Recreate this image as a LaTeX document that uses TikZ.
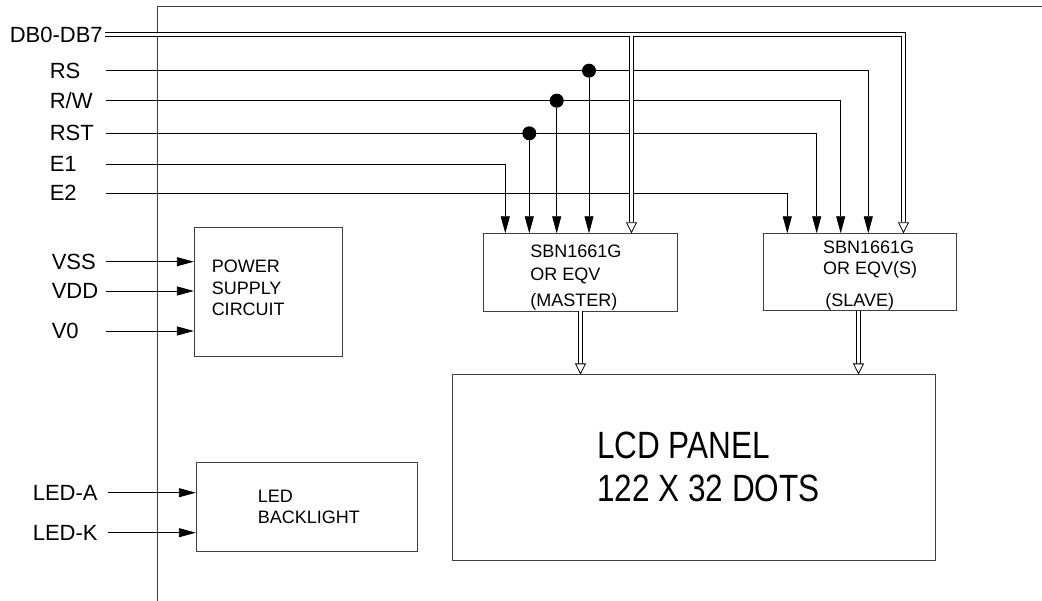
\documentclass[tikz,border=0pt]{standalone}
\usepackage{fontspec}
\setmainfont{Liberation Sans}
\newfontfamily\lcdfont[FakeStretch=0.83]{Liberation Sans}
\usetikzlibrary{arrows.meta, positioning, calc}
\tikzset{
  blk/.style    ={rectangle, draw=black!75, line width=0.9pt, inner sep=0pt},
  blktxt/.style ={anchor=north west, inner sep=0pt, align=left,
                  font=\fontsize{18pt}{21.5pt}\selectfont},
  pin/.style    ={anchor=east, inner sep=0pt, align=left,
                  font=\fontsize{22pt}{26pt}\selectfont},
  dot/.style    ={circle, fill=black, inner sep=0pt, minimum size=14pt},
  sig/.style    ={-{Triangle[length=17pt, width=9pt]}, line width=0.8pt},
  busline/.style={double, double distance=3pt, line width=1pt},
  bus/.style    ={busline, -{Triangle[open, length=11pt, width=11pt, line width=0.8pt]}},
}
\begin{document}
\begin{tikzpicture}[x=1pt, y=-1pt]
  \useasboundingbox (0,0) rectangle (1042,601);
  % frame
  \draw[black!75, line width=0.9pt] (157,601) -- (157,6) -- (1042,6);
  % blocks
  \node[blk, minimum width=148pt, minimum height=129pt] (power) at (268.3,292) {};
  \node[blk, minimum width=221pt, minimum height=89pt] (led) at (306.8,507.2) {};
  \node[blk, minimum width=193.7pt, minimum height=77.7pt] (master) at (580.5,272.2) {};
  \node[blk, minimum width=193.4pt, minimum height=77.4pt] (slave) at (860,272) {};
  \node[blk, minimum width=483.4pt, minimum height=185.7pt] (lcd) at (694,467.8) {};
  \node[blktxt] (powertxt) at ($(power.north west)+(17.7,32.9)$) {POWER\\SUPPLY\\CIRCUIT};
  \node[blktxt, font=\fontsize{18pt}{21pt}\selectfont] (ledtxt) at ($(led.north west)+(61.7,28.1)$) {LED\\BACKLIGHT};
  \node[blktxt, font=\fontsize{18pt}{22.6pt}\selectfont] (mastertxt) at ($(master.north west)+(47,11.9)$) {SBN1661G\\OR EQV\\[4pt](MASTER)};
  \node[blktxt, font=\fontsize{18pt}{21.7pt}\selectfont] (slavetxt) at ($(slave.north west)+(60,7.5)$) {SBN1661G\\OR EQV(S)\\[10pt]\hspace{2.4pt}(SLAVE)};
  \node[blktxt, font=\lcdfont\fontsize{38pt}{43pt}\selectfont] (lcdtxt) at ($(lcd.north west)+(145,57.3)$) {LCD PANEL\\122 X 32 DOTS};
  % pins
  \node[pin, text width=95pt] (db) at (105,34.5) {DB0-DB7};
  \node[pin, text width=56pt] (rs) at (106,70.7) {RS};
  \node[pin, text width=56pt] (rw) at (106,100.7) {R/W};
  \node[pin, text width=56pt] (rst) at (106,133.3) {RST};
  \node[pin, text width=56pt] (e1) at (106,164.3) {E1};
  \node[pin, text width=56pt] (e2) at (106,193.3) {E2};
  \node[pin, text width=54pt] (vss) at (106,261.7) {VSS};
  \node[pin, text width=54pt] (vdd) at (106,291) {VDD};
  \node[pin, text width=54pt] (v0) at (106,331) {V0};
  \node[pin, text width=74.7pt] (leda) at (107.7,492.7) {LED-A};
  \node[pin, text width=74.7pt] (ledk) at (107.7,532.7) {LED-K};
  % inputs on the controllers
  \coordinate (m1) at (505.3,233.3);
  \coordinate (m2) at (529.3,233.3);
  \coordinate (m3) at (556.7,233.3);
  \coordinate (m4) at (589,233.3);
  \coordinate (m5) at (631.5,233.3);
  \coordinate (s1) at (787.3,233.3);
  \coordinate (s2) at (816.7,233.3);
  \coordinate (s3) at (840.7,233.3);
  \coordinate (s4) at (868.3,233.3);
  \coordinate (s5) at (903.5,233.3);
  \draw[sig] (e1.east) -| (m1);
  \draw[sig] (e2.east) -| (s1);
  \draw[sig] (rst.east) -| (s2);
  \draw[sig] (rw.east) -| (s3);
  \draw[sig] (rs.east) -| (s4);
  \node[dot] (d2) at (rst.east -| m2) {};
  \node[dot] (d3) at (rw.east -| m3) {};
  \node[dot] (d4) at (rs.east -| m4) {};
  \draw[sig] (d2) -- (m2);
  \draw[sig] (d3) -- (m3);
  \draw[sig] (d4) -- (m4);
  % data bus
  \coordinate (jn) at (db.east -| m5);
  \draw[bus] (db.east) -| (s5);
  \draw[bus] (jn) -- (m5);
  \draw[busline] ([xshift=-6pt]jn) -- ([xshift=6pt]jn) (jn) -- ([yshift=-8pt]jn);
  \draw[bus] (master.south) -- (master.south |- lcd.north);
  \draw[bus] ([xshift=-1.5pt]slave.south) -- ([xshift=-1.5pt]slave.south |- lcd.north);
  % supply and backlight
  \draw[sig] (vss.east) -- (vss.east -| power.west);
  \draw[sig] (vdd.east) -- (vdd.east -| power.west);
  \draw[sig] (v0.east) -- (v0.east -| power.west);
  \draw[sig] (leda.east) -- (leda.east -| led.west);
  \draw[sig] (ledk.east) -- (ledk.east -| led.west);
\end{tikzpicture}
\end{document}
